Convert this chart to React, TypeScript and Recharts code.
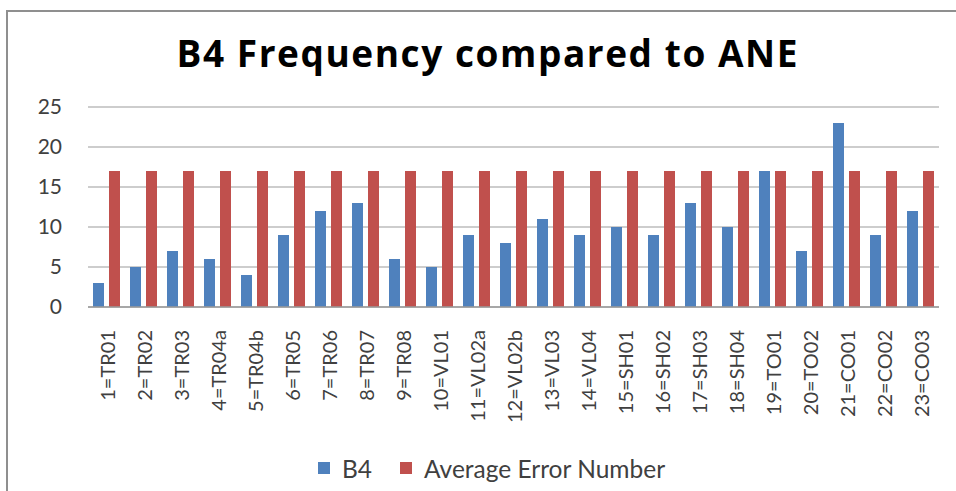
import React from 'react';
import { BarChart, Bar, XAxis, YAxis, CartesianGrid, Legend } from 'recharts';

const categories = [
  '1=TR01', '2=TR02', '3=TR03', '4=TR04a', '5=TR04b', '6=TR05', '7=TR06', '8=TR07',
  '9=TR08', '10=VL01', '11=VL02a', '12=VL02b', '13=VL03', '14=VL04', '15=SH01', '16=SH02',
  '17=SH03', '18=SH04', '19=TO01', '20=TO02', '21=CO01', '22=CO02', '23=CO03',
];
const b4Values = [3, 5, 7, 6, 4, 9, 12, 13, 6, 5, 9, 8, 11, 9, 10, 9, 13, 10, 17, 7, 23, 9, 12];
const aneValues = [17, 17, 17, 17, 17, 17, 17, 17, 17, 17, 17, 17, 17, 17, 17, 17, 17, 17, 17, 17, 17, 17, 17];
const yTicks = [0, 5, 10, 15, 20, 25];

const SERIES_B4 = 'B4';
const SERIES_ANE = 'Average Error Number';
const BLUE = '#4F81BD';
const RED = '#C0504D';
const FONT = 'Lato, "Open Sans", sans-serif';

const data = categories.map((name, i) => ({ name, b4: b4Values[i], ane: aneValues[i] }));

const XTick = (props: any) => {
  const { x, y, payload } = props;
  return (
    <text
      x={x}
      y={y}
      transform={`rotate(-90 ${x} ${y})`}
      textAnchor="end"
      dy="0.4em"
      fontSize={20}
      fontFamily={FONT}
      fill="#404040"
    >
      {payload.value}
    </text>
  );
};

const LegendContent = () => (
  <div
    style={{
      display: 'flex',
      justifyContent: 'center',
      alignItems: 'center',
      height: 30,
      fontFamily: FONT,
      fontSize: 24.5,
      color: '#404040',
      paddingLeft: 44,
    }}
  >
    <span style={{ display: 'inline-block', width: 12, height: 12, background: BLUE, marginRight: 12 }} />
    <span style={{ marginRight: 28 }}>{SERIES_B4}</span>
    <span style={{ display: 'inline-block', width: 12, height: 12, background: RED, marginRight: 12 }} />
    <span>{SERIES_ANE}</span>
  </div>
);

export default function App() {
  return (
    <div style={{ position: 'absolute', left: 0, top: 0, width: 956, height: 491, background: '#fff' }}>
      <BarChart
        width={956}
        height={491}
        data={data}
        margin={{ top: 107, right: 17, bottom: 8, left: 0 }}
        barCategoryGap={5}
        barGap={5}
      >
        <rect x={7} y={11} width={1000} height={600} fill="none" stroke="#8f8f8f" strokeWidth={2} />
        <text
          x={487}
          y={67}
          textAnchor="middle"
          fontFamily='"Open Sans", sans-serif'
          fontWeight={700}
          fontSize={37}
          textLength={621}
          lengthAdjust="spacing"
          fill="#000"
        >
          B4 Frequency compared to ANE
        </text>
        <CartesianGrid vertical={false} stroke="#bdbdbd" strokeWidth={1.5} />
        <XAxis
          dataKey="name"
          interval={0}
          height={146}
          tickLine={false}
          tickSize={0}
          tickMargin={23}
          axisLine={{ stroke: '#9a9a9a', strokeWidth: 1.5 }}
          tick={<XTick />}
        />
        <YAxis
          width={88}
          domain={[0, 25]}
          ticks={yTicks}
          tickLine={false}
          axisLine={false}
          tickSize={0}
          tickMargin={26}
          tick={{ fontSize: 21, fontFamily: FONT, fill: '#404040' }}
        />
        <Legend verticalAlign="bottom" content={<LegendContent />} />
        <Bar dataKey="b4" name={SERIES_B4} fill={BLUE} isAnimationActive={false} />
        <Bar dataKey="ane" name={SERIES_ANE} fill={RED} isAnimationActive={false} />
      </BarChart>
    </div>
  );
}
